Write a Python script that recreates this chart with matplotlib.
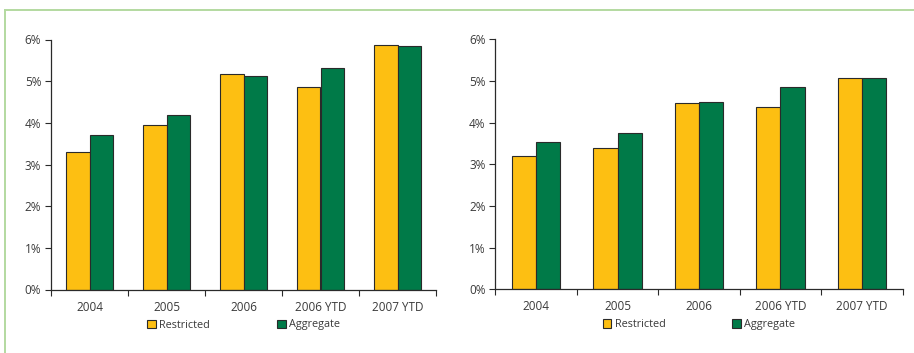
import matplotlib
matplotlib.use("Agg")
import matplotlib.pyplot as plt
from matplotlib.patches import Patch
from matplotlib.lines import Line2D
import numpy as np

plt.rcParams['font.family'] = ['Open Sans', 'DejaVu Sans']

categories = ["2004", "2005", "2006", "2006 YTD", "2007 YTD"]
left_restricted = [3.30, 3.96, 5.18, 4.86, 5.88]
left_aggregate = [3.70, 4.18, 5.12, 5.32, 5.85]
right_restricted = [3.21, 3.38, 4.46, 4.38, 5.06]
right_aggregate = [3.53, 3.74, 4.49, 4.86, 5.07]
yticks = [0, 1, 2, 3, 4, 5, 6]
ytick_labels = ["0%", "1%", "2%", "3%", "4%", "5%", "6%"]

yellow = "#FDBF12"
green = "#007A48"
text_col = "#3a3a3a"

fig = plt.figure(figsize=(9.14, 3.53), dpi=100)

# light green frame
frame_col = "#b3d9a0"
fig.add_artist(Line2D([5/914, 1.0], [1-9.5/353]*2, color=frame_col, lw=1.4, transform=fig.transFigure))
fig.add_artist(Line2D([5/914]*2, [0, 1-9.5/353], color=frame_col, lw=1.4, transform=fig.transFigure))

def draw(ax, restricted, aggregate):
    x = np.arange(len(categories))
    w = 0.30
    ax.bar(x - w/2, restricted, w, color=yellow, edgecolor="#2a2a2a", linewidth=0.8)
    ax.bar(x + w/2, aggregate, w, color=green, edgecolor="#2a2a2a", linewidth=0.8)
    ax.set_xlim(-0.5, len(categories) - 0.5)
    ax.set_ylim(0, 6)
    ax.set_yticks(yticks)
    ax.set_yticklabels(ytick_labels)
    ax.set_xticks(np.arange(len(categories) + 1) - 0.5)
    ax.set_xticklabels([])
    ax.set_xticks(x, minor=True)
    ax.set_xticklabels(categories, minor=True)
    ax.tick_params(axis="x", which="minor", length=0, pad=8, labelsize=8.5, colors=text_col)
    ax.tick_params(axis="x", which="major", length=4, direction="out", color="#2a2a2a")
    ax.tick_params(axis="y", length=4, direction="out", labelsize=8.5, colors=text_col, color="#2a2a2a", pad=3)
    for s in ["top", "right"]:
        ax.spines[s].set_visible(False)
    for s in ["left", "bottom"]:
        ax.spines[s].set_color("#2a2a2a")
        ax.spines[s].set_linewidth(0.9)
    handles = [Patch(facecolor=yellow, edgecolor="#2a2a2a", lw=0.8, label="Restricted"),
               Patch(facecolor=green, edgecolor="#2a2a2a", lw=0.8, label="Aggregate")]
    ax.legend(handles=handles, loc="center", bbox_to_anchor=(0.5, -0.142), ncol=2,
              frameon=False, fontsize=7.8, handlelength=0.8, handleheight=0.8,
              handletextpad=0.3, columnspacing=6.2, labelcolor=text_col, borderaxespad=0)

ax1 = fig.add_axes([51/914, 1-289.5/353, (436-51)/914, 250/353])
draw(ax1, left_restricted, left_aggregate)
ax2 = fig.add_axes([495.3/914, 1-289.3/353, (902.7-495.3)/914, 250/353])
draw(ax2, right_restricted, right_aggregate)

fig.savefig("out.png", dpi=100)
